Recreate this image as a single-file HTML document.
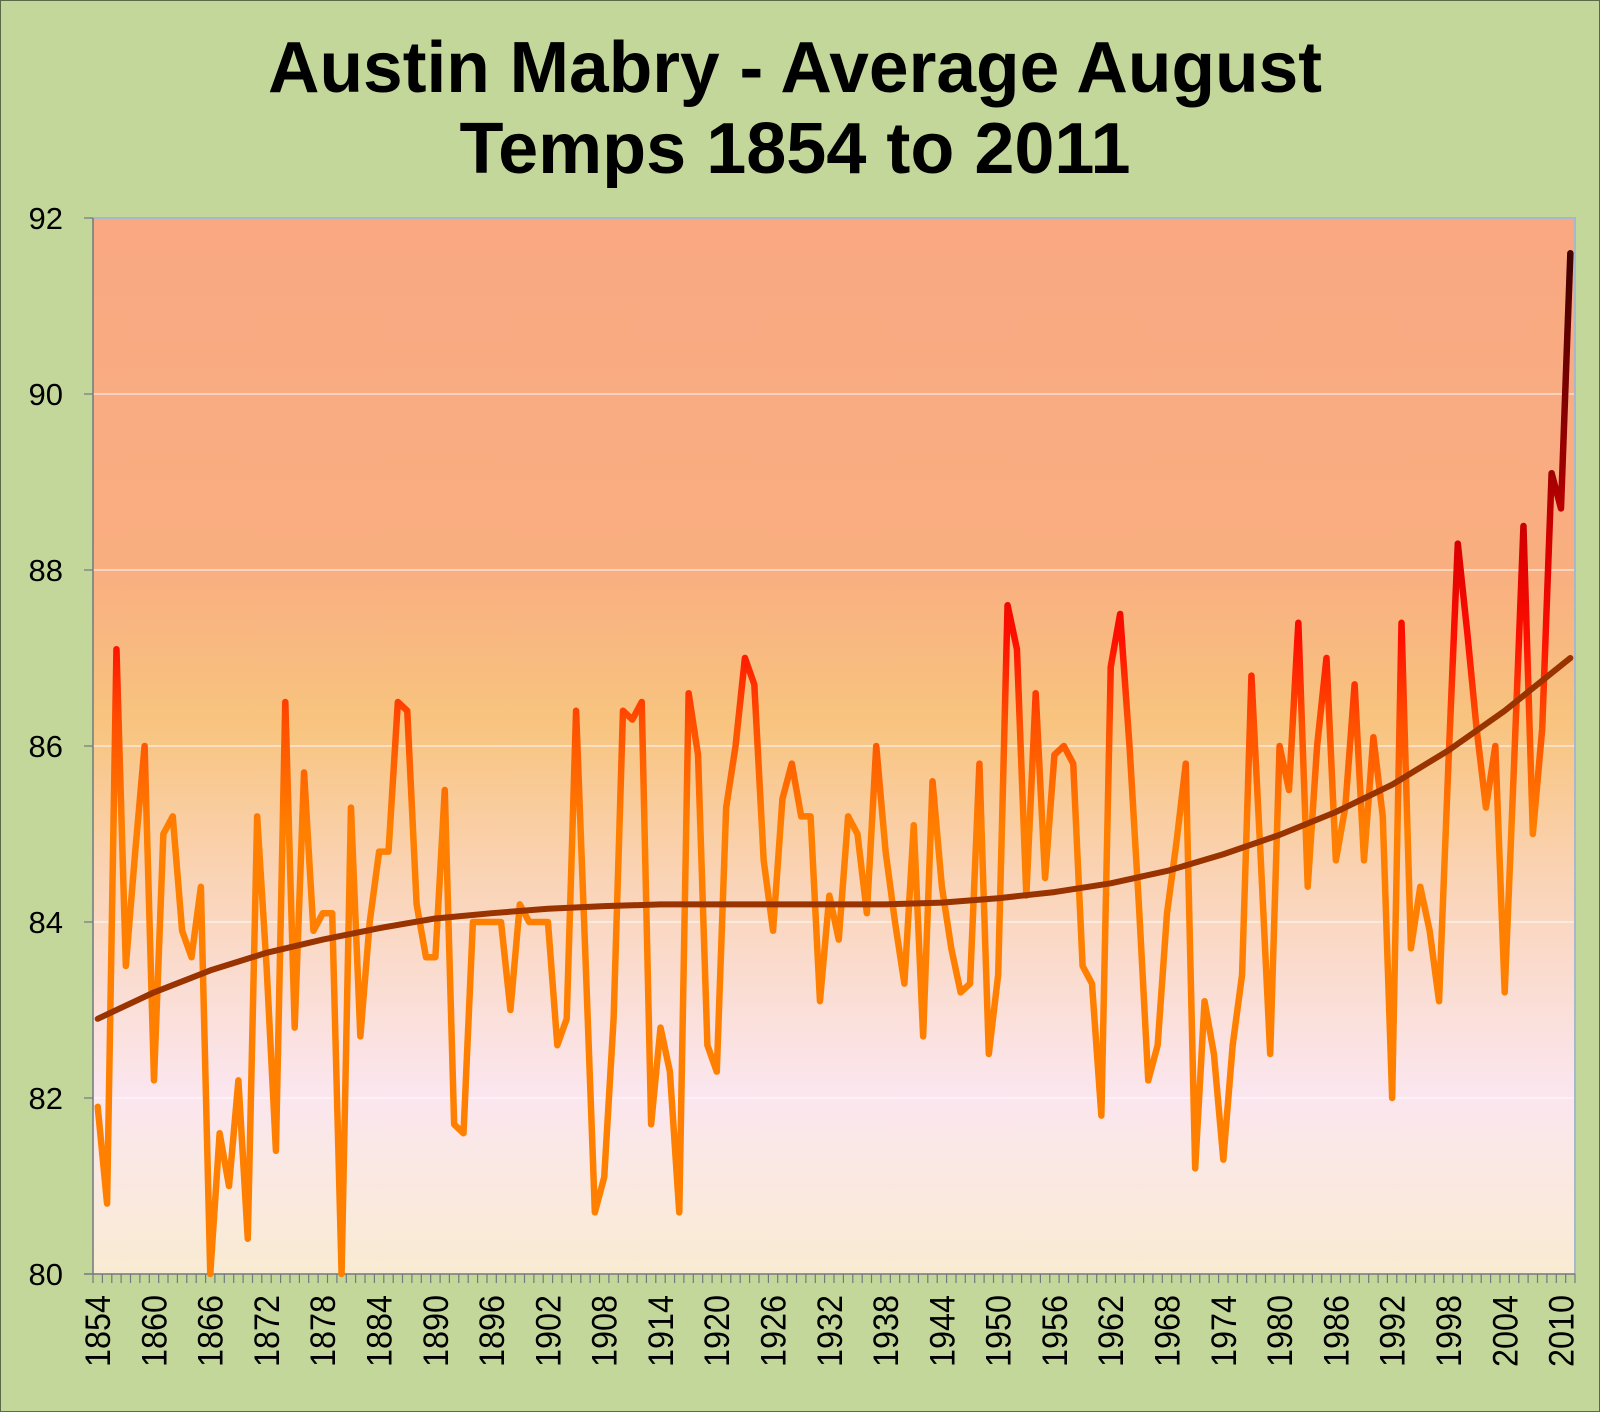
<!DOCTYPE html>
<html><head><meta charset="utf-8"><style>
html,body{margin:0;padding:0;background:#c4d79b;}
svg{display:block;}
</style></head><body>
<svg width="1600" height="1412" viewBox="0 0 1600 1412" xmlns="http://www.w3.org/2000/svg">
<defs>
<linearGradient id="bg" x1="0" y1="218" x2="0" y2="1274" gradientUnits="userSpaceOnUse">
<stop offset="0" stop-color="#f9a882"/>
<stop offset="0.33" stop-color="#f9ae80"/>
<stop offset="0.48" stop-color="#f8c47f"/>
<stop offset="0.62" stop-color="#fad3b4"/>
<stop offset="0.83" stop-color="#fbe6ef"/>
<stop offset="1" stop-color="#f9ebd2"/>
</linearGradient>
<linearGradient id="lc" x1="0" y1="80" x2="0" y2="92" gradientUnits="userSpaceOnUse">
<stop offset="0" stop-color="#ff8000"/>
<stop offset="0.42" stop-color="#ff8000"/>
<stop offset="0.52" stop-color="#ff5000"/>
<stop offset="0.6" stop-color="#ff1000"/>
<stop offset="0.68" stop-color="#e00000"/>
<stop offset="0.76" stop-color="#a00000"/>
<stop offset="0.95" stop-color="#450000"/>
</linearGradient>
</defs>
<rect x="0.5" y="0.5" width="1599" height="1411" fill="#c4d79b" stroke="#5a6a48"/>
<text x="795" y="92" font-family="Liberation Sans, sans-serif" font-weight="bold" font-size="72" text-anchor="middle" fill="#000" textLength="1054" lengthAdjust="spacingAndGlyphs">Austin Mabry - Average August</text>
<text x="795" y="173" font-family="Liberation Sans, sans-serif" font-weight="bold" font-size="72" text-anchor="middle" fill="#000">Temps 1854 to 2011</text>
<rect x="93" y="218" width="1482" height="1056" fill="url(#bg)"/>
<g stroke="#ffffff" stroke-opacity="0.75" stroke-width="1.2">
<line x1="93" x2="1575" y1="394" y2="394"/>
<line x1="93" x2="1575" y1="570" y2="570"/>
<line x1="93" x2="1575" y1="746" y2="746"/>
<line x1="93" x2="1575" y1="922" y2="922"/>
<line x1="93" x2="1575" y1="1098" y2="1098"/>
</g>
<polyline points="93,218 1575,218 1575,1274" fill="none" stroke="#a8b8cc" stroke-width="2"/>
<line x1="93" y1="218" x2="93" y2="1274" stroke="#707880" stroke-width="1.5"/>
<line x1="84" y1="1274" x2="1575" y2="1274" stroke="#707880" stroke-width="1.5"/>
<g stroke="#707880" stroke-width="1.2">
<line x1="84" x2="93" y1="218" y2="218"/><line x1="84" x2="93" y1="394" y2="394"/><line x1="84" x2="93" y1="570" y2="570"/><line x1="84" x2="93" y1="746" y2="746"/><line x1="84" x2="93" y1="922" y2="922"/><line x1="84" x2="93" y1="1098" y2="1098"/>
</g>
<g font-family="Liberation Sans, sans-serif" font-size="31" text-anchor="end" fill="#000">
<text x="63" y="229">92</text><text x="63" y="405">90</text><text x="63" y="581">88</text><text x="63" y="757">86</text><text x="63" y="933">84</text><text x="63" y="1109">82</text><text x="63" y="1285">80</text>
</g>
<path stroke="#707880" stroke-width="1.2" fill="none" d="M93,1274v9 M102.4,1274v9 M111.8,1274v9 M121.1,1274v9 M130.5,1274v9 M139.9,1274v9 M149.3,1274v9 M158.7,1274v9 M168,1274v9 M177.4,1274v9 M186.8,1274v9 M196.2,1274v9 M205.6,1274v9 M214.9,1274v9 M224.3,1274v9 M233.7,1274v9 M243.1,1274v9 M252.5,1274v9 M261.8,1274v9 M271.2,1274v9 M280.6,1274v9 M290,1274v9 M299.4,1274v9 M308.7,1274v9 M318.1,1274v9 M327.5,1274v9 M336.9,1274v9 M346.3,1274v9 M355.6,1274v9 M365,1274v9 M374.4,1274v9 M383.8,1274v9 M393.2,1274v9 M402.5,1274v9 M411.9,1274v9 M421.3,1274v9 M430.7,1274v9 M440.1,1274v9 M449.4,1274v9 M458.8,1274v9 M468.2,1274v9 M477.6,1274v9 M487,1274v9 M496.3,1274v9 M505.7,1274v9 M515.1,1274v9 M524.5,1274v9 M533.9,1274v9 M543.2,1274v9 M552.6,1274v9 M562,1274v9 M571.4,1274v9 M580.8,1274v9 M590.1,1274v9 M599.5,1274v9 M608.9,1274v9 M618.3,1274v9 M627.7,1274v9 M637,1274v9 M646.4,1274v9 M655.8,1274v9 M665.2,1274v9 M674.6,1274v9 M683.9,1274v9 M693.3,1274v9 M702.7,1274v9 M712.1,1274v9 M721.5,1274v9 M730.8,1274v9 M740.2,1274v9 M749.6,1274v9 M759,1274v9 M768.4,1274v9 M777.7,1274v9 M787.1,1274v9 M796.5,1274v9 M805.9,1274v9 M815.3,1274v9 M824.6,1274v9 M834,1274v9 M843.4,1274v9 M852.8,1274v9 M862.2,1274v9 M871.5,1274v9 M880.9,1274v9 M890.3,1274v9 M899.7,1274v9 M909.1,1274v9 M918.4,1274v9 M927.8,1274v9 M937.2,1274v9 M946.6,1274v9 M956,1274v9 M965.3,1274v9 M974.7,1274v9 M984.1,1274v9 M993.5,1274v9 M1002.9,1274v9 M1012.2,1274v9 M1021.6,1274v9 M1031,1274v9 M1040.4,1274v9 M1049.8,1274v9 M1059.1,1274v9 M1068.5,1274v9 M1077.9,1274v9 M1087.3,1274v9 M1096.7,1274v9 M1106,1274v9 M1115.4,1274v9 M1124.8,1274v9 M1134.2,1274v9 M1143.6,1274v9 M1152.9,1274v9 M1162.3,1274v9 M1171.7,1274v9 M1181.1,1274v9 M1190.5,1274v9 M1199.8,1274v9 M1209.2,1274v9 M1218.6,1274v9 M1228,1274v9 M1237.4,1274v9 M1246.7,1274v9 M1256.1,1274v9 M1265.5,1274v9 M1274.9,1274v9 M1284.3,1274v9 M1293.6,1274v9 M1303,1274v9 M1312.4,1274v9 M1321.8,1274v9 M1331.2,1274v9 M1340.5,1274v9 M1349.9,1274v9 M1359.3,1274v9 M1368.7,1274v9 M1378.1,1274v9 M1387.4,1274v9 M1396.8,1274v9 M1406.2,1274v9 M1415.6,1274v9 M1425,1274v9 M1434.3,1274v9 M1443.7,1274v9 M1453.1,1274v9 M1462.5,1274v9 M1471.9,1274v9 M1481.2,1274v9 M1490.6,1274v9 M1500,1274v9 M1509.4,1274v9 M1518.8,1274v9 M1528.1,1274v9 M1537.5,1274v9 M1546.9,1274v9 M1556.3,1274v9 M1565.7,1274v9 M1575,1274v9"/>
<g font-family="Liberation Sans, sans-serif" font-size="35" text-anchor="end" fill="#000">
<text transform="translate(110,1295) rotate(-90)" textLength="72" lengthAdjust="spacingAndGlyphs">1854</text>
<text transform="translate(166.3,1295) rotate(-90)" textLength="72" lengthAdjust="spacingAndGlyphs">1860</text>
<text transform="translate(222.6,1295) rotate(-90)" textLength="72" lengthAdjust="spacingAndGlyphs">1866</text>
<text transform="translate(278.9,1295) rotate(-90)" textLength="72" lengthAdjust="spacingAndGlyphs">1872</text>
<text transform="translate(335.2,1295) rotate(-90)" textLength="72" lengthAdjust="spacingAndGlyphs">1878</text>
<text transform="translate(391.5,1295) rotate(-90)" textLength="72" lengthAdjust="spacingAndGlyphs">1884</text>
<text transform="translate(447.8,1295) rotate(-90)" textLength="72" lengthAdjust="spacingAndGlyphs">1890</text>
<text transform="translate(504,1295) rotate(-90)" textLength="72" lengthAdjust="spacingAndGlyphs">1896</text>
<text transform="translate(560.3,1295) rotate(-90)" textLength="72" lengthAdjust="spacingAndGlyphs">1902</text>
<text transform="translate(616.6,1295) rotate(-90)" textLength="72" lengthAdjust="spacingAndGlyphs">1908</text>
<text transform="translate(672.9,1295) rotate(-90)" textLength="72" lengthAdjust="spacingAndGlyphs">1914</text>
<text transform="translate(729.2,1295) rotate(-90)" textLength="72" lengthAdjust="spacingAndGlyphs">1920</text>
<text transform="translate(785.5,1295) rotate(-90)" textLength="72" lengthAdjust="spacingAndGlyphs">1926</text>
<text transform="translate(841.8,1295) rotate(-90)" textLength="72" lengthAdjust="spacingAndGlyphs">1932</text>
<text transform="translate(898.1,1295) rotate(-90)" textLength="72" lengthAdjust="spacingAndGlyphs">1938</text>
<text transform="translate(954.4,1295) rotate(-90)" textLength="72" lengthAdjust="spacingAndGlyphs">1944</text>
<text transform="translate(1010.7,1295) rotate(-90)" textLength="72" lengthAdjust="spacingAndGlyphs">1950</text>
<text transform="translate(1067,1295) rotate(-90)" textLength="72" lengthAdjust="spacingAndGlyphs">1956</text>
<text transform="translate(1123.2,1295) rotate(-90)" textLength="72" lengthAdjust="spacingAndGlyphs">1962</text>
<text transform="translate(1179.5,1295) rotate(-90)" textLength="72" lengthAdjust="spacingAndGlyphs">1968</text>
<text transform="translate(1235.8,1295) rotate(-90)" textLength="72" lengthAdjust="spacingAndGlyphs">1974</text>
<text transform="translate(1292.1,1295) rotate(-90)" textLength="72" lengthAdjust="spacingAndGlyphs">1980</text>
<text transform="translate(1348.4,1295) rotate(-90)" textLength="72" lengthAdjust="spacingAndGlyphs">1986</text>
<text transform="translate(1404.7,1295) rotate(-90)" textLength="72" lengthAdjust="spacingAndGlyphs">1992</text>
<text transform="translate(1461,1295) rotate(-90)" textLength="72" lengthAdjust="spacingAndGlyphs">1998</text>
<text transform="translate(1517.3,1295) rotate(-90)" textLength="72" lengthAdjust="spacingAndGlyphs">2004</text>
<text transform="translate(1573.5,1295) rotate(-90)" textLength="72" lengthAdjust="spacingAndGlyphs">2010</text>
</g>
<g transform="matrix(9.38 0 0 -88 97.7 8314)">
<polyline fill="none" stroke="url(#lc)" stroke-width="6.5" stroke-linejoin="round" stroke-linecap="round" vector-effect="non-scaling-stroke" points="0,81.9 1,80.8 2,87.1 3,83.5 4,84.8 5,86.0 6,82.2 7,85.0 8,85.2 9,83.9 10,83.6 11,84.4 12,80.0 13,81.6 14,81.0 15,82.2 16,80.4 17,85.2 18,83.5 19,81.4 20,86.5 21,82.8 22,85.7 23,83.9 24,84.1 25,84.1 26,80.0 27,85.3 28,82.7 29,84.0 30,84.8 31,84.8 32,86.5 33,86.4 34,84.2 35,83.6 36,83.6 37,85.5 38,81.7 39,81.6 40,84.0 41,84.0 42,84.0 43,84.0 44,83.0 45,84.2 46,84.0 47,84.0 48,84.0 49,82.6 50,82.9 51,86.4 52,83.6 53,80.7 54,81.1 55,82.9 56,86.4 57,86.3 58,86.5 59,81.7 60,82.8 61,82.3 62,80.7 63,86.6 64,85.9 65,82.6 66,82.3 67,85.3 68,86.0 69,87.0 70,86.7 71,84.7 72,83.9 73,85.4 74,85.8 75,85.2 76,85.2 77,83.1 78,84.3 79,83.8 80,85.2 81,85.0 82,84.1 83,86.0 84,84.8 85,84.0 86,83.3 87,85.1 88,82.7 89,85.6 90,84.4 91,83.7 92,83.2 93,83.3 94,85.8 95,82.5 96,83.4 97,87.6 98,87.1 99,84.3 100,86.6 101,84.5 102,85.9 103,86.0 104,85.8 105,83.5 106,83.3 107,81.8 108,86.9 109,87.5 110,86.0 111,84.2 112,82.2 113,82.6 114,84.1 115,84.9 116,85.8 117,81.2 118,83.1 119,82.5 120,81.3 121,82.6 122,83.4 123,86.8 124,84.7 125,82.5 126,86.0 127,85.5 128,87.4 129,84.4 130,86.0 131,87.0 132,84.7 133,85.3 134,86.7 135,84.7 136,86.1 137,85.2 138,82.0 139,87.4 140,83.7 141,84.4 142,83.9 143,83.1 144,85.8 145,88.3 146,87.3 147,86.2 148,85.3 149,86.0 150,83.2 151,85.8 152,88.5 153,85.0 154,86.2 155,89.1 156,88.7 157,91.6"/>
<polyline fill="none" stroke="#993300" stroke-width="6" stroke-linecap="round" stroke-linejoin="round" vector-effect="non-scaling-stroke" points="0,82.9 6,83.2 12,83.45 18,83.65 24,83.8 30,83.93 36,84.04 42,84.1 48,84.15 54,84.18 60,84.2 72,84.2 84,84.2 90,84.22 96,84.27 102,84.34 108,84.44 114,84.58 120,84.77 126,84.99 132,85.25 138,85.56 144,85.95 150,86.4 157,87.0"/>
</g>
</svg>
</body></html>
